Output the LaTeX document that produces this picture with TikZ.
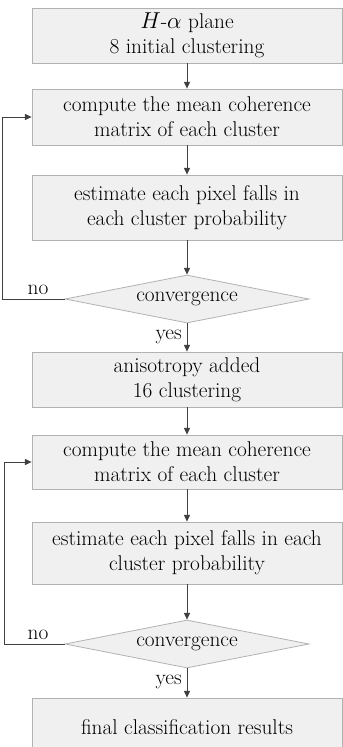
\documentclass[tikz,border=0pt]{standalone}
\usepackage{amsmath}
\usepackage{tikz}
\usetikzlibrary{shapes.geometric,arrows.meta}

\tikzset{
	procbox/.style={draw=gray!60, fill=gray!12, line width=0.6pt, minimum width=232.5pt, align=center, inner sep=0pt, font=\fontsize{16}{18.5}\selectfont},
	convbox/.style={diamond, aspect=5, draw=gray!60, fill=gray!12, line width=0.6pt, minimum width=183pt, minimum height=36pt, inner sep=0pt, font=\fontsize{16}{18.5}\selectfont},
	arr/.style={-{Triangle[length=5pt,width=4.5pt]}, draw=gray!50!black, line width=0.7pt},
	lbl/.style={inner sep=0.75pt, font=\fontsize{16}{18.5}\selectfont}
}

\begin{document}
\begin{tikzpicture}[x=0.75pt,y=0.75pt,yscale=-1,xscale=1]
	\useasboundingbox (0,0) rectangle (343,747);
	
	% first stage
	\node [procbox, minimum height=41.25pt] (init) at (187,35.5) {$H$-$\alpha$ plane\\8 initial clustering};
	\node [procbox, minimum height=42pt] (mean1) at (187,117) {compute the mean coherence\\matrix of each cluster};
	\node [procbox, minimum height=48.75pt] (prob1) at (187,207.5) {estimate each pixel falls in\\each cluster probability};
	\node [convbox] (conv1) at (187,299) {convergence};
	
	% second stage
	\node [procbox, minimum height=41.25pt] (aniso) at (187,379.5) {anisotropy added\\16 clustering};
	\node [procbox, minimum height=40.5pt] (mean2) at (187,462) {compute the mean coherence\\matrix of each cluster};
	\node [procbox, minimum height=46.5pt] (prob2) at (187,553) {estimate each pixel falls in each\\cluster probability};
	\node [convbox] (conv2) at (187,644) {convergence};
	\node [procbox, minimum height=43.5pt] (final) at (187,727) {final classification results};
	
	% arrows
	\draw [arr] (init) -- (mean1);
	\draw [arr] (mean1) -- (prob1);
	\draw [arr] (prob1) -- (conv1);
	\draw [arr] (conv1) -- (aniso);
	\draw [arr] (aniso) -- (mean2);
	\draw [arr] (mean2) -- (prob2);
	\draw [arr] (prob2) -- (conv2);
	\draw [arr] (conv2) -- (final);
	
	% loops back
	\draw [arr] (conv1.west) -- ++(-62,0) |- (mean1.west);
	\draw [arr] (conv2.west) -- ++(-60,0) |- (mean2.west);
	
	% Text Node
	\node [lbl, anchor=south] (no1) at (38,296) {no};
	\node [lbl, anchor=east] (yes1) at (183,337) {yes};
	\node [lbl, anchor=south] (no2) at (38,641) {no};
	\node [lbl, anchor=east] (yes2) at (183,682) {yes};
	
\end{tikzpicture}
\end{document}
